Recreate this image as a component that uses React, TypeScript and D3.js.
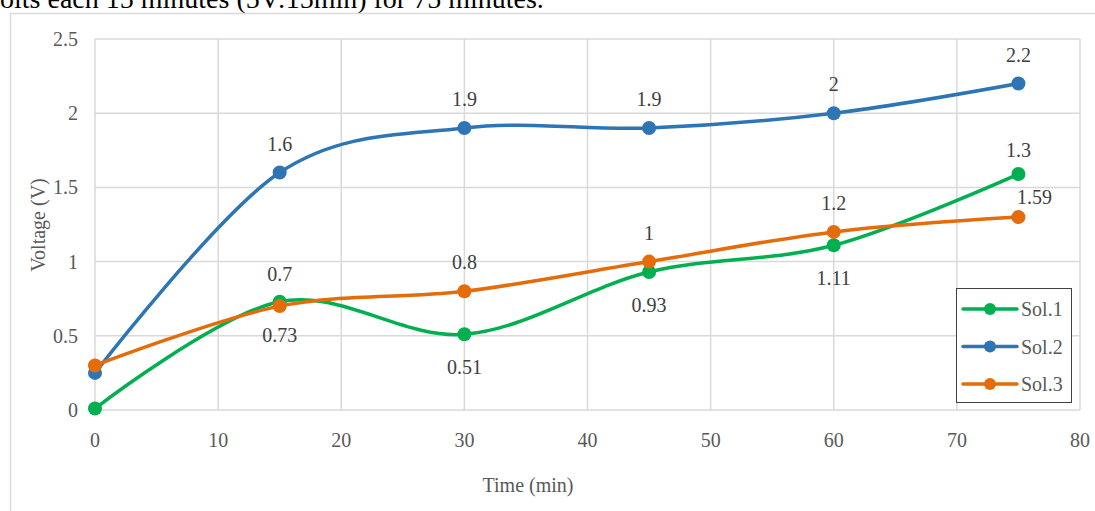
import React from "react";
import * as d3 from "d3";

const times = [0, 15, 30, 45, 60, 75];
const sol1 = [0.01, 0.73, 0.51, 0.93, 1.11, 1.59];
const sol2 = [0.25, 1.6, 1.9, 1.9, 2.0, 2.2];
const sol3 = [0.3, 0.7, 0.8, 1.0, 1.2, 1.3];
const sol1Labels = ["", "0.73", "0.51", "0.93", "1.11", "1.3"];
const sol2Labels = ["", "1.6", "1.9", "1.9", "2", "2.2"];
const sol3Labels = ["", "0.7", "0.8", "1", "1.2", "1.59"];
const sol1Place = ["below", "below", "below", "below", "below", "aboveNear"];
const sol2Place = ["above", "above", "above", "above", "above", "above"];
const sol3Place = ["above", "aboveFar", "above", "above", "above", "aboveRight"];
const seriesNames = ["Sol.1", "Sol.2", "Sol.3"];
const xTicks = [0, 10, 20, 30, 40, 50, 60, 70, 80];
const yTicks = [0, 0.5, 1, 1.5, 2, 2.5];
const headerText = "olts each 15 minutes (5V:15min) for 75 minutes.";

const colors = ["#00b050", "#2e75b6", "#e46c0a"];
const FONT = "'Liberation Serif', 'Times New Roman', serif";

export default function App() {
  const W = 1095, H = 511;
  const left = 95, right = 1080, top = 39, bottom = 410;
  const x = d3.scaleLinear().domain([0, 80]).range([left, right]);
  const y = d3.scaleLinear().domain([0, 2.5]).range([bottom, top]);
  const line = d3
    .line<[number, number]>()
    .x((d) => x(d[0]))
    .y((d) => y(d[1]))
    .curve(d3.curveCardinal.tension(0));

  const series = [
    { vals: sol1, labels: sol1Labels, place: sol1Place },
    { vals: sol2, labels: sol2Labels, place: sol2Place },
    { vals: sol3, labels: sol3Labels, place: sol3Place },
  ];

  const offset = (p: string) => {
    if (p === "below") return [0, 33];
    if (p === "aboveRight") return [16, -20];
    if (p === "aboveNear") return [0, -24];
    if (p === "aboveFar") return [0, -32];
    return [0, -29];
  };

  return (
    <svg
      width={W}
      height={H}
      style={{ position: "absolute", left: 0, top: 0, background: "#fff" }}
      fontFamily={FONT}
    >
      <rect x={0} y={0} width={W} height={H} fill="#fff" />
      <text x={0} y={8} fontSize={28} fill="#000">
        {headerText}
      </text>
      <rect x={10.5} y={13.5} width={W} height={H} fill="none" stroke="#d9d9d9" strokeWidth={1.5} />
      {yTicks.map((t) => (
        <line key={"gy" + t} x1={left} x2={right} y1={y(t)} y2={y(t)} stroke="#d9d9d9" strokeWidth={1.5} />
      ))}
      {xTicks.map((t) => (
        <line key={"gx" + t} x1={x(t)} x2={x(t)} y1={top} y2={bottom} stroke="#d9d9d9" strokeWidth={1.5} />
      ))}
      {yTicks.map((t) => (
        <text key={"ty" + t} x={78} y={y(t)} dy="0.35em" textAnchor="end" fontSize={20} fill="#595959">
          {d3.format("~g")(t)}
        </text>
      ))}
      {xTicks.map((t) => (
        <text key={"tx" + t} x={x(t)} y={440} dy="0.35em" textAnchor="middle" fontSize={20} fill="#595959">
          {t}
        </text>
      ))}
      <text x={528} y={485} dy="0.35em" textAnchor="middle" fontSize={20} fill="#595959">
        Time (min)
      </text>
      <text
        transform={`translate(38,225) rotate(-90)`}
        dy="0.35em"
        textAnchor="middle"
        fontSize={20}
        fill="#595959"
      >
        Voltage (V)
      </text>
      {series.map((s, i) => (
        <g key={"s" + i}>
          <path
            d={line(times.map((t, j) => [t, s.vals[j]] as [number, number])) || ""}
            fill="none"
            stroke={colors[i]}
            strokeWidth={3.5}
            strokeLinecap="round"
          />
          {times.map((t, j) => (
            <circle key={j} cx={x(t)} cy={y(s.vals[j])} r={7} fill={colors[i]} />
          ))}
        </g>
      ))}
      {series.map((s, i) =>
        times.map((t, j) => {
          if (!s.labels[j]) return null;
          const [dx, dy] = offset(s.place[j]);
          return (
            <text
              key={"l" + i + "-" + j}
              x={x(t) + dx}
              y={y(s.vals[j]) + dy}
              dy="0.35em"
              textAnchor="middle"
              fontSize={20}
              fill="#404040"
            >
              {s.labels[j]}
            </text>
          );
        })
      )}
      <rect x={956.5} y={288.5} width={115} height={114} fill="#fff" stroke="#404040" strokeWidth={1} />
      {seriesNames.map((n, i) => {
        const ly = 309 + i * 37.5;
        return (
          <g key={"lg" + i}>
            <line x1={963} x2={1017} y1={ly} y2={ly} stroke={colors[i]} strokeWidth={3.5} strokeLinecap="round" />
            <circle cx={990} cy={ly} r={6} fill={colors[i]} />
            <text x={1021} y={ly} dy="0.35em" fontSize={20} fill="#595959">
              {n}
            </text>
          </g>
        );
      })}
    </svg>
  );
}
